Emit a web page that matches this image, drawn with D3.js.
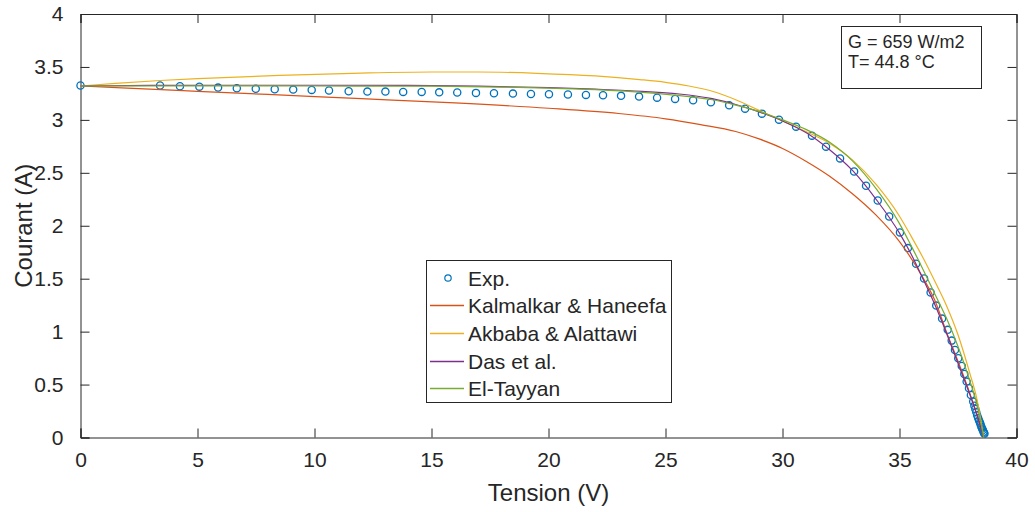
<!DOCTYPE html>
<html><head><meta charset="utf-8">
<script src="https://cdn.jsdelivr.net/npm/d3@7"></script>
<style>body{margin:0;background:#fff}svg{display:block}text{font-family:"Liberation Sans",Arial,sans-serif;fill:#262626}</style>
</head><body><svg id="c" width="1035" height="512"></svg>
<script>
// Data
const xTicks = [0,5,10,15,20,25,30,35,40];
const yTicks = [0,0.5,1,1.5,2,2.5,3,3.5,4];
const yTickLabels = ["0","0.5","1","1.5","2","2.5","3","3.5","4"];
const seriesNames = ["Exp.","Kalmalkar & Haneefa","Akbaba & Alattawi","Das et al.","El-Tayyan"];
const seriesColors = ["#0072BD","#D95319","#EDB120","#7E2F8E","#77AC30"];
const expV = [0,3.40,4.25,5.08,5.88,6.68,7.49,8.30,9.09,9.88,10.62,11.46,12.26,13.03,13.79,14.58,15.33,16.10,16.90,17.67,18.48,19.25,20.02,20.83,21.60,22.33,23.10,23.87,24.64,25.41,26.18,26.94,27.72,28.40,29.12,29.85,30.58,31.26,31.86,32.46,33.06,33.57,34.07,34.56,35.02,35.36,35.71,36.05,36.33,36.57,36.82,37.06,37.23,37.37,37.51,37.66,37.77,37.87,37.97,38.05,38.15,38.20,38.24,38.28,38.32,38.36,38.40,38.44,38.47,38.50,38.53,38.56,38.59,38.61,38.63];
const expI = [3.324,3.324,3.317,3.314,3.305,3.298,3.293,3.289,3.286,3.283,3.277,3.270,3.267,3.267,3.264,3.264,3.260,3.258,3.255,3.251,3.248,3.245,3.242,3.239,3.236,3.232,3.227,3.220,3.210,3.198,3.185,3.166,3.138,3.106,3.059,3.002,2.936,2.851,2.747,2.636,2.513,2.378,2.239,2.088,1.937,1.789,1.641,1.502,1.369,1.246,1.123,1.017,0.915,0.827,0.749,0.676,0.600,0.528,0.465,0.402,0.339,0.30,0.27,0.24,0.21,0.185,0.16,0.14,0.12,0.10,0.085,0.07,0.055,0.045,0.035];
const kalV = [0,2,5,8,12,16,20,23,25,26.5,28,29,30,31,32,33,34,35,36,36.5,37,37.5,38,38.3,38.6];
const kalI = [3.32,3.30,3.27,3.24,3.20,3.16,3.11,3.06,3.01,2.955,2.89,2.82,2.73,2.61,2.47,2.30,2.10,1.85,1.51,1.30,1.00,0.72,0.42,0.22,0];
const akbV = [0,1.5,3.4,5,8.5,12,15,17,19.5,22,23.9,25,26,27,28,29,30,31,32,33,34,35,35.5,36,36.5,37,37.5,38,38.3,38.6];
const akbI = [3.32,3.345,3.372,3.39,3.42,3.442,3.452,3.452,3.44,3.415,3.381,3.355,3.32,3.27,3.19,3.09,2.99,2.89,2.78,2.62,2.39,2.09,1.90,1.70,1.48,1.25,0.97,0.61,0.37,0];
const dasV = [0,3,6,10,14,17,20,22,24,26,27,28,29,30,31,32,33,34,35,35.5,36,36.5,37,37.5,38,38.3,38.6];
const dasI = [3.32,3.325,3.327,3.327,3.325,3.318,3.305,3.29,3.27,3.235,3.2,3.145,3.075,2.99,2.88,2.72,2.52,2.25,1.93,1.73,1.50,1.26,0.99,0.70,0.41,0.22,0];
const eltV = [0,5,10,15,18,20,22,24,26,27,28,29,30,31,32,33,34,35,35.5,36,36.5,37,37.5,38,38.3,38.6];
const eltI = [3.32,3.322,3.32,3.318,3.31,3.30,3.285,3.26,3.22,3.19,3.14,3.08,3.0,2.91,2.79,2.61,2.35,2.02,1.81,1.59,1.36,1.13,0.86,0.54,0.32,0];

const svg = d3.select("#c");
const L=80.5, R=1016.5, T=14, B=437.5;
const x = d3.scaleLinear().domain([0,40]).range([L,R]);
const y = d3.scaleLinear().domain([0,4]).range([B,T]);
const axCol = "#262626", tl = 9;

// axes
const gx = svg.append("g").attr("transform",`translate(0,${B})`)
  .call(d3.axisBottom(x).tickValues(xTicks).tickSize(-tl).tickPadding(tl+6).tickFormat(d3.format("d")));
const gy = svg.append("g").attr("transform",`translate(${L},0)`)
  .call(d3.axisLeft(y).tickValues(yTicks).tickSize(-tl).tickPadding(tl+8).tickFormat((d,i)=>yTickLabels[i]));
const gxt = svg.append("g").attr("transform",`translate(0,${T})`)
  .call(d3.axisTop(x).tickValues(xTicks).tickSize(-tl).tickFormat(""));
const gyr = svg.append("g").attr("transform",`translate(${R},0)`)
  .call(d3.axisRight(y).tickValues(yTicks).tickSize(-tl).tickFormat(""));
[gx,gy,gxt,gyr].forEach(g=>{
  g.selectAll("path,line").attr("stroke",axCol).attr("stroke-width",1);
  g.selectAll("text").style("font-size","21px").attr("fill",axCol);
});
gx.selectAll("text").attr("dy","0.71em");

svg.append("text").attr("x",(L+R)/2).attr("y",501).attr("text-anchor","middle")
  .style("font-size","24px").text("Tension (V)");
svg.append("text").attr("transform",`translate(32,${(T+B)/2}) rotate(-90)`).attr("text-anchor","middle")
  .style("font-size","24px").text("Courant (A)");

// plot
const line = d3.line().x(d=>x(d[0])).y(d=>y(d[1])).curve(d3.curveMonotoneX);
svg.append("g").selectAll("circle").data(expV.map((v,i)=>[v,expI[i]])).join("circle")
  .attr("cx",d=>x(d[0])).attr("cy",d=>y(d[1])).attr("r",3.6)
  .attr("fill","none").attr("stroke",seriesColors[0]).attr("stroke-width",1.3);
const curves = [[kalV,kalI],[akbV,akbI],[dasV,dasI],[eltV,eltI]];
curves.forEach((c,k)=>{
  svg.append("path").datum(c[0].map((v,i)=>[v,c[1][i]])).attr("d",line)
    .attr("fill","none").attr("stroke",seriesColors[k+1]).attr("stroke-width",1.2);
});

// legend
const lg = svg.append("g");
lg.append("rect").attr("x",426.5).attr("y",260.5).attr("width",245).attr("height",142)
  .attr("fill","#fff").attr("stroke","#262626").attr("stroke-width",1);
const rowY = [278,305,333,361,388];
seriesNames.forEach((n,i)=>{
  const yy = rowY[i];
  if(i===0){
    lg.append("circle").attr("cx",448).attr("cy",yy).attr("r",3.2).attr("fill","none")
      .attr("stroke",seriesColors[0]).attr("stroke-width",1.2);
  } else {
    lg.append("line").attr("x1",430).attr("x2",464).attr("y1",yy+0.5).attr("y2",yy+0.5)
      .attr("stroke",seriesColors[i]).attr("stroke-width",1.3);
  }
  lg.append("text").attr("x",468).attr("y",yy).attr("dy","0.36em").style("font-size","21px").text(n);
});

// annotation
const an = svg.append("g");
an.append("rect").attr("x",841.5).attr("y",26.5).attr("width",140).attr("height",62)
  .attr("fill","#fff").attr("stroke","#262626").attr("stroke-width",1);
an.append("text").attr("x",848).attr("y",47.5).style("font-size","18px").text("G = 659 W/m2");
an.append("text").attr("x",848).attr("y",68).style("font-size","18px").text("T= 44.8 °C");
</script></body></html>
